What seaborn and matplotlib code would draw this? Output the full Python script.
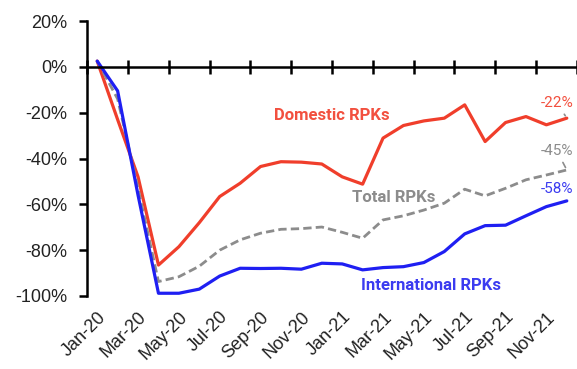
import matplotlib
matplotlib.use("Agg")
import matplotlib.pyplot as plt
import seaborn as sns
import numpy as np
from matplotlib.ticker import FuncFormatter

months = ["Jan-20", "Feb-20", "Mar-20", "Apr-20", "May-20", "Jun-20",
          "Jul-20", "Aug-20", "Sep-20", "Oct-20", "Nov-20", "Dec-20",
          "Jan-21", "Feb-21", "Mar-21", "Apr-21", "May-21", "Jun-21",
          "Jul-21", "Aug-21", "Sep-21", "Oct-21", "Nov-21", "Dec-21"]

domestic = [2.5, -23, -48, -86.5, -78.5, -68, -56.6, -50.8, -43.5, -41.4, -41.6, -42.4,
            -48, -51.2, -31.1, -25.6, -23.6, -22.4, -16.6, -32.6, -24.3, -21.7, -25.3, -22.4]
total = [2.5, -14, -53, -93.7, -91.6, -87, -80, -75.5, -72.6, -70.9, -70.6, -69.9,
         -72.2, -74.8, -66.8, -65, -62.5, -59.5, -53.4, -56.3, -53, -49.3, -47.2, -45]
international = [2.5, -10.5, -56, -98.8, -98.8, -97, -91.3, -87.9, -88, -87.9, -88.3, -85.7,
                 -86, -88.6, -87.6, -87.2, -85.4, -80.6, -72.9, -69.3, -69.1, -65, -61, -58.5]

series_names = ["Domestic RPKs", "Total RPKs", "International RPKs"]
end_labels = ["-22%", "-45%", "-58%"]

RED = "#F03E2B"
RED_T = "#F2503F"
GREY = "#8C8C8C"
BLUE = "#1F1FF2"
BLUE_T = "#3B3BF0"

sns.set_theme(style="white")
plt.rcParams["font.family"] = ["Liberation Sans", "DejaVu Sans"]
plt.rcParams["axes.unicode_minus"] = False

fig = plt.figure(figsize=(5.77, 3.69), dpi=100)
ax = fig.add_axes([87 / 577, 1 - 296 / 369, 490 / 577, 275 / 369])

idx = np.arange(len(months))
sns.lineplot(x=idx, y=domestic, ax=ax, color=RED, linewidth=2.3)
sns.lineplot(x=idx, y=total, ax=ax, color=GREY, linewidth=2.0, dashes=False)
ax.lines[-1].set_linestyle((0, (3.0, 1.5)))
sns.lineplot(x=idx, y=international, ax=ax, color=BLUE, linewidth=2.3)

ax.set_xlim(-0.5, 23.5)
ax.set_ylim(-100, 20)

for s in ["right", "bottom"]:
    ax.spines[s].set_visible(False)
ax.spines["top"].set_position(("data", 0))
ax.spines["top"].set_color("black")
ax.spines["top"].set_linewidth(1.8)
ax.spines["left"].set_color("black")
ax.spines["left"].set_linewidth(1.8)

ax.set_yticks(np.arange(-100, 21, 20))
ax.yaxis.set_major_formatter(FuncFormatter(lambda v, p: f"{v:.0f}%"))
ax.tick_params(axis="y", left=True, direction="out", length=6, width=1.8,
               color="black", labelsize=13, pad=8, labelcolor="#222222")

ax.set_xticks(idx[::2])
ax.set_xticklabels(months[::2], rotation=45, ha="right", va="top",
                   rotation_mode="anchor")
ax.set_xticks(np.arange(-0.5, 24, 2), minor=True)
ax.tick_params(axis="x", which="major", bottom=True, top=False, length=0,
               labelbottom=True, labeltop=False, labelsize=13, pad=9,
               labelcolor="#222222")
ax.tick_params(axis="x", which="minor", bottom=False, top=True, direction="inout",
               length=10, width=1.8, color="black", labeltop=False, labelbottom=False)

ax.set_xlabel("")
ax.set_ylabel("")
ax.grid(False)

lab_kw = dict(fontsize=12, fontweight="bold", family=["Roboto", "DejaVu Sans"],
              ha="center", va="center")
ax.text(11.51, -21.1, series_names[0], color=RED_T, **lab_kw)
ax.text(14.52, -56.8, series_names[1], color=GREY, **lab_kw)
ax.text(16.36, -95.5, series_names[2], color=BLUE_T, **lab_kw)

end_kw = dict(fontsize=11, ha="left", va="center", annotation_clip=False,
              family=["Roboto", "DejaVu Sans"])
ax.annotate(end_labels[0], xy=(23, domestic[-1]), xytext=(21.72, -15.7), color=RED_T,
            arrowprops=dict(arrowstyle="-", color=GREY, lw=1.2, shrinkA=1, shrinkB=2),
            **end_kw)
ax.annotate(end_labels[1], xy=(23, total[-1]), xytext=(21.72, -36.7), color=GREY,
            arrowprops=dict(arrowstyle="-", color=GREY, lw=1.2, shrinkA=1, shrinkB=2),
            **end_kw)
ax.annotate(end_labels[2], xy=(23, international[-1]), xytext=(21.72, -53.3), color=BLUE_T,
            **end_kw)

fig.savefig("out.png", dpi=100)
